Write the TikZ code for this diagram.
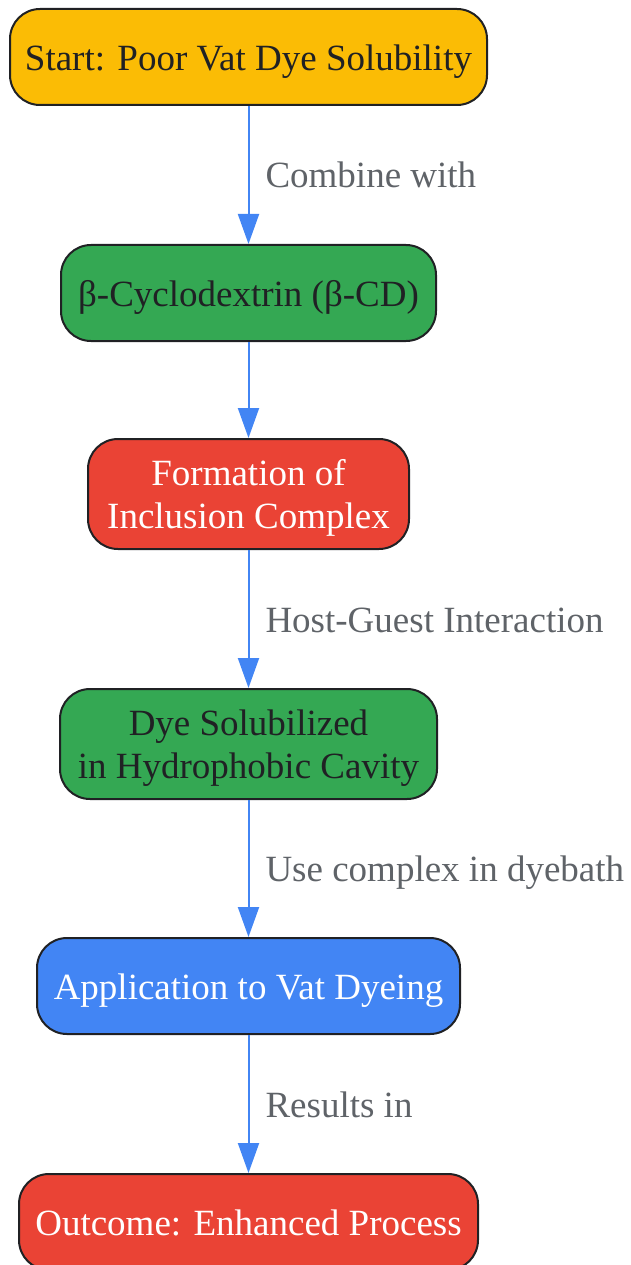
\documentclass[tikz,border=0pt]{standalone}
\usepackage{fontspec}
\setmainfont{Liberation Serif}
\usetikzlibrary{arrows.meta}
\definecolor{cyellow}{HTML}{FBBC05}
\definecolor{cgreen}{HTML}{34A853}
\definecolor{cred}{HTML}{EA4335}
\definecolor{cblue}{HTML}{4285F4}
\definecolor{cborder}{HTML}{202124}
\definecolor{cdark}{HTML}{202124}
\definecolor{clabel}{HTML}{5F6368}
\newcommand{\upstrut}{\rule{0pt}{33pt}}
\tikzset{
  box/.style={draw=cborder, line width=2pt, rounded corners=30pt, inner sep=0pt,
    align=center, font=\fontsize{37pt}{43pt}\selectfont},
  oneline/.style={text height=29pt, text depth=2pt, minimum height=96pt},
  twoline/.style={minimum height=110pt},
  conn/.style={draw=cblue, line width=2pt, -{Triangle[length=30pt,width=21pt]}},
  elabel/.style={midway, anchor=west, xshift=16pt, inner sep=0pt, text=clabel,
    text height=26pt, text depth=0pt, font=\fontsize{37pt}{43pt}\selectfont}
}
\begin{document}
\begin{tikzpicture}[x=1pt,y=-1pt]
\useasboundingbox (0,0) rectangle (630,1265);
\node[box, oneline, fill=cyellow, text=cdark, minimum width=477pt] (n1) at (248.5,57) {Start: Poor Vat Dye Solubility};
\node[box, oneline, fill=cgreen, text=cdark, minimum width=375pt] (n2) at (248.5,293) {β-Cyclodextrin (β-CD)};
\node[box, twoline, fill=cred, text=white, minimum width=321pt] (n3) at (248.5,494) {\upstrut Formation of\\Inclusion Complex};
\node[box, twoline, fill=cgreen, text=cdark, minimum width=377pt] (n4) at (248.5,744) {\upstrut Dye Solubilized\\in Hydrophobic Cavity};
\node[box, oneline, fill=cblue, text=white, minimum width=423pt] (n5) at (248.5,986) {Application to Vat Dyeing};
\node[box, oneline, fill=cred, text=white, minimum width=459pt] (n6) at (248.5,1222) {Outcome: Enhanced Process};
\draw[conn] (n1) -- node[elabel] {Combine with} (n2);
\draw[conn] (n2) -- (n3);
\draw[conn] (n3) -- node[elabel] {Host-Guest Interaction} (n4);
\draw[conn] (n4) -- node[elabel] {Use complex in dyebath} (n5);
\draw[conn] (n5) -- node[elabel] {Results in} (n6);
\end{tikzpicture}
\end{document}
